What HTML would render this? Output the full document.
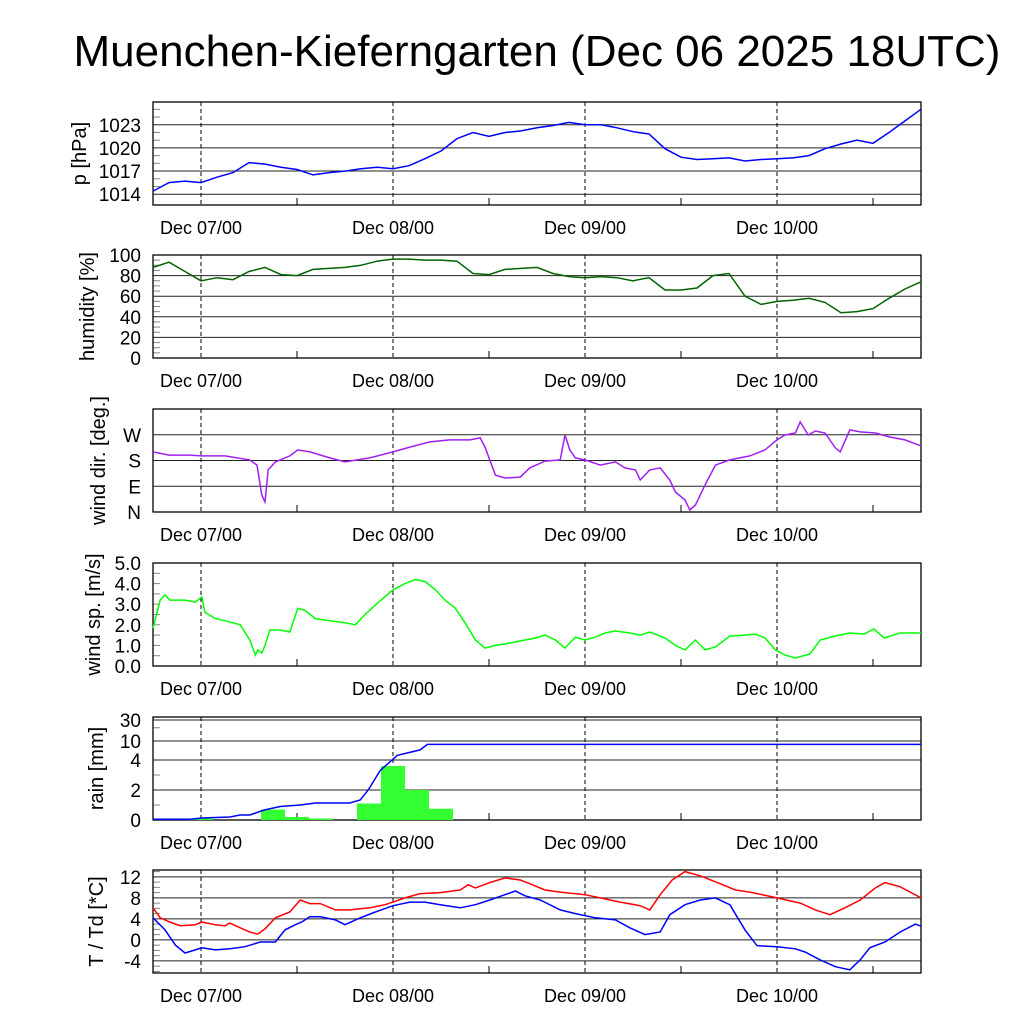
<!DOCTYPE html>
<html><head><meta charset="utf-8"><style>
html,body{margin:0;padding:0;background:#fff;}
svg{display:block;font-family:"Liberation Sans",sans-serif;}
</style></head><body>
<svg id="c" width="1024" height="1024" xmlns="http://www.w3.org/2000/svg">
<text x="537" y="66" font-size="44" text-anchor="middle">Muenchen-Kieferngarten (Dec 06 2025 18UTC)</text>
</svg>
<script>
// time in hours since Dec 06 18UTC
const dayLabels=["Dec 07/00","Dec 08/00","Dec 09/00","Dec 10/00"];
const dayHours=[6,30,54,78];
const presH=[0,2,4,6,8,10,12,14,16,18,20,22,24,26,28,30,32,34,36,38,40,42,44,46,48,50,52,54,56,58,60,62,64,66,68,70,72,74,76,78,80,82,84,86,88,90,92,94,96];
const presV=[1014.4,1015.5,1015.7,1015.5,1016.2,1016.8,1018.1,1017.9,1017.5,1017.2,1016.5,1016.8,1017.0,1017.3,1017.5,1017.3,1017.7,1018.6,1019.6,1021.2,1022,1021.5,1022,1022.2,1022.6,1022.9,1023.3,1023,1023,1022.6,1022.1,1021.8,1019.9,1018.8,1018.5,1018.6,1018.7,1018.3,1018.5,1018.6,1018.7,1019,1019.9,1020.5,1021,1020.6,1022,1023.5,1025];
const humH=presH;
const humV=[88,93,84,75,78,76,84,88,81,80,86,87,88,90,94,96,96,95,95,94,82,81,86,87,88,82,79,78,79,78,75,78,66,66,68,80,82,60,52,55,56,58,54,44,45,48,58,67,74];
const dirH=[0,2,4.6,6.1,9,12.1,13,13.6,14,14.4,15.3,17.1,18.1,19.6,22.1,24,27.1,30,32.1,34.6,37.1,39.6,40.9,41.5,42.8,44,45.9,47.1,49,50.9,51.5,52.1,52.8,54,55.9,57.8,59,60.3,60.9,62.1,63.4,64.6,65.3,66.5,67.1,67.8,69,70.3,72.1,74.6,76.5,78,79,80.3,80.9,81.9,82.8,84,85.3,85.9,87.1,88.4,90.3,92.1,94,96];
const dirV=[210,199,199,196,196,182,164,59,35,147,175,196,217,210,189,175,189,210,227,245,252,252,259,227,129,119,122,154,178,182,269,217,189,182,164,175,154,147,112,147,154,112,70,42,7,24,94,164,182,196,217,252,269,276,315,269,283,276,224,210,287,280,276,262,252,231];
const spdH=[0,0.9,1.5,2.1,4,5.3,6.1,6.5,7.8,9,10.9,12.1,12.8,13.1,13.6,14,14.6,15.9,17.1,18.1,19,20.3,22.1,24,25.3,26.5,27.8,30,31.5,32.8,34,35.3,36.5,37.8,39,40.3,41.5,42.8,44,45.3,46.5,47.8,49,50.3,51.5,52.1,52.8,54,55.3,56.5,57.8,59.6,60.9,62.1,64,65.3,66.5,67.8,69,70.3,72.1,74,75.3,76.5,77.8,79,80.3,82.1,83.4,85.3,87.1,88.9,90.1,91.4,93.4,96];
const spdV=[1.84,3.2,3.45,3.2,3.2,3.1,3.35,2.6,2.3,2.2,2.0,1.26,0.53,0.78,0.63,1.0,1.75,1.75,1.65,2.8,2.7,2.3,2.2,2.1,2.0,2.5,2.96,3.7,4.0,4.2,4.1,3.7,3.2,2.8,2.1,1.26,0.87,1.0,1.07,1.17,1.26,1.36,1.5,1.26,0.87,1.12,1.4,1.26,1.4,1.6,1.7,1.6,1.5,1.65,1.36,1.0,0.78,1.26,0.78,0.92,1.45,1.5,1.55,1.36,0.78,0.53,0.39,0.58,1.26,1.46,1.6,1.55,1.8,1.36,1.6,1.6];
const rainSumH=[0,4.6,6.1,9.6,10.9,12.1,13.9,15.9,18.4,20.3,24.6,25.9,26.9,28.4,30.3,30.5,33.4,34.3,96];
const rainSumV=[0.05,0.05,0.13,0.2,0.33,0.33,0.67,0.9,1.0,1.13,1.13,1.33,2.0,3.3,4.6,5.0,6.5,8.5,8.5];
const rainBarH=[3,6,15,18,21,27,30,33,36];
const rainBarV=[0.1,0.1,0.7,0.2,0.1,1.1,3.6,2.0,0.75];
const tH=[0,0.9,2.1,3.4,5.3,6.1,7.8,9,9.6,10.9,12.1,13.1,14,15.3,17.1,18.4,19.6,20.9,22.8,24.6,27.1,29,30,31.5,33.4,35.9,38.4,39.4,40.3,42.1,44,45.9,47.1,49,50.9,54,55.9,58.4,60.9,62.1,63.4,64.9,66.5,68.4,70.9,72.8,74.6,78,80.9,82.8,84.6,86.5,88.4,90.3,91.5,93.4,96];
const tV=[6.1,4.2,3.4,2.7,2.9,3.4,2.9,2.7,3.2,2.3,1.5,1.1,2.1,4.2,5.3,7.6,6.9,6.9,5.7,5.7,6.1,6.7,7.2,8.0,8.8,9.0,9.5,10.5,9.9,10.9,11.8,11.4,10.7,9.5,9.1,8.6,8.0,7.2,6.5,5.7,8.6,11.4,13.0,12.2,10.7,9.5,9.1,8.0,7.0,5.7,4.8,6.1,7.6,9.9,10.9,10.1,8.0];
const tdH=[0,1.5,2.8,4,5.3,6.1,7.8,9.6,11.5,13.4,15.3,16.5,17.8,18.6,19.6,20.9,22.8,24,25.9,27.8,30,32.1,34,35.9,38.4,40.3,42.1,44,45.3,46.5,48.4,50.9,52.8,55.3,57.8,59.6,61.5,63.4,64.6,66.5,68.4,70.3,72.1,74,75.5,78,80.3,81.5,83.4,85.3,87.1,88.4,89.6,91.5,93.4,95.3,96];
const tdV=[4.2,1.9,-1.0,-2.5,-1.9,-1.5,-1.9,-1.7,-1.3,-0.4,-0.4,1.9,2.9,3.4,4.4,4.4,3.8,2.9,4.2,5.3,6.5,7.2,7.2,6.7,6.1,6.7,7.6,8.6,9.3,8.4,7.6,5.7,5.0,4.2,3.8,2.3,1.0,1.5,4.8,6.7,7.6,8.0,6.7,1.9,-1.1,-1.3,-1.7,-2.3,-3.8,-5.1,-5.7,-3.8,-1.5,-0.4,1.5,3.0,2.6];

const svg=document.getElementById('c');
const NS='http://www.w3.org/2000/svg';
const L=153,R=921;
const X=h=>L+(R-L)*h/96;
function el(tag,attrs,parent){const e=document.createElementNS(NS,tag);for(const k in attrs)e.setAttribute(k,attrs[k]);(parent||svg).appendChild(e);return e;}

function panel(name,top,bot,Y,grid,ticks,title,minor,tx0){
  const g=el('g',{});
  
  
  grid.forEach(v=>{const y=Y(v);el('line',{x1:L,x2:R,y1:y,y2:y,stroke:'#222','stroke-width':1},g);});
  (minor||[]).forEach(v=>{const y=Y(v);el('line',{x1:L,x2:L+7,y1:y,y2:y,stroke:'#888','stroke-width':1},g);});
  dayHours.forEach(h=>{const x=X(h);el('line',{x1:x,x2:x,y1:top,y2:bot,stroke:'#000','stroke-width':1,'stroke-dasharray':'4,3'},g);});
  for(let h=18;h<96;h+=24){const x=X(h);el('line',{x1:x,x2:x,y1:bot,y2:bot-7,stroke:'#000'},g);}
  el('rect',{x:L,y:top,width:R-L,height:bot-top,fill:'none',stroke:'#000','stroke-width':1.3},g);
  ticks.forEach(t=>{const tx=el('text',{x:L-12,y:Y(t[0])+7,'font-size':19,'text-anchor':'end'},g);tx.textContent=t[1];
    
    });
  dayHours.forEach((h,i)=>{const tx=el('text',{x:X(h),y:bot+29,'font-size':18,'text-anchor':'middle'},g);tx.textContent=dayLabels[i];
    
    });
  const cy=(top+bot)/2;
  const tt=el('text',{x:tx0,y:cy,'font-size':20,'text-anchor':'middle',transform:`rotate(-90 ${tx0} ${cy})`},g);tt.textContent=title;
  
  
  return g;
}
function line(g,H,V,Y,color,name){
  const d=H.map((h,i)=>(i?'L':'M')+X(h).toFixed(1)+','+Y(V[i]).toFixed(1)).join('');
  const p=el('path',{d:d,fill:'none',stroke:color,'stroke-width':1.5},g);
  
  
}
function lin(top,bot,v0,v1){return v=>bot-(v-v0)/(v1-v0)*(bot-top);}

let Yp=lin(102,205,1012.6,1025.95);
let g=panel('pressure',102,205,Yp,[1014,1017,1020,1023],[[1014,'1014'],[1017,'1017'],[1020,'1020'],[1023,'1023']],'p [hPa]',[1015,1016,1018,1019,1021,1022,1024,1025],86);
line(g,presH,presV,Yp,'#0000ff','pressure-line');
let Yh=lin(255,358,0,100);
g=panel('humidity',255,358,Yh,[20,40,60,80,100],[[0,'0'],[20,'20'],[40,'40'],[60,'60'],[80,'80'],[100,'100']],'humidity [%]',[5,10,15,25,30,35,45,50,55,65,70,75,85,90,95],94);
line(g,humH,humV,Yh,'#006400','humidity-line');
let Yd=lin(409,512,0,360);
g=panel('wind-direction',409,512,Yd,[90,180,270],[[0,'N'],[90,'E'],[180,'S'],[270,'W']],'wind dir. [deg.]',[],105);
line(g,dirH,dirV,Yd,'#a020f0','wind-direction-line');
let Ys=lin(563,666,0,5);
g=panel('wind-speed',563,666,Ys,[],[[0,'0.0'],[1,'1.0'],[2,'2.0'],[3,'3.0'],[4,'4.0'],[5,'5.0']],'wind sp. [m/s]',[0.5,1,1.5,2,2.5,3,3.5,4,4.5],100);
line(g,spdH,spdV,Ys,'#00ff00','wind-speed-line');
const Yr=v=>{if(v<=4)return 820-v*15;if(v<=10)return 760-19*Math.log(v/4)/Math.log(2.5);return 741-21*Math.log(v/10)/Math.log(3);};
g=panel('rain',717,820,Yr,[2,4,10,30],[[0,'0'],[2,'2'],[4,'4'],[10,'10'],[30,'30']],'rain [mm]',[1,3,20],103);
rainBarH.forEach((h,i)=>{const r=el('rect',{x:X(h-1.5),width:X(h+1.5)-X(h-1.5),y:Yr(rainBarV[i]),height:820-Yr(rainBarV[i]),fill:'#33ff33'},g);
  
  });
line(g,rainSumH,rainSumV,Yr,'#0000ff','rain-cumulative-line');
let Yt=lin(870,973,-6.3,13.3);
g=panel('temperature',870,973,Yt,[-4,0,4,8,12],[[-4,'-4'],[0,'0'],[4,'4'],[8,'8'],[12,'12']],'T / Td [*C]',[-6,-5,-3,-2,-1,1,2,3,5,6,7,9,10,11,13],103);
line(g,tH,tV,Yt,'#ff0000','temperature-line');
line(g,tdH,tdV,Yt,'#0000ff','dewpoint-line');
</script>
</body></html>
